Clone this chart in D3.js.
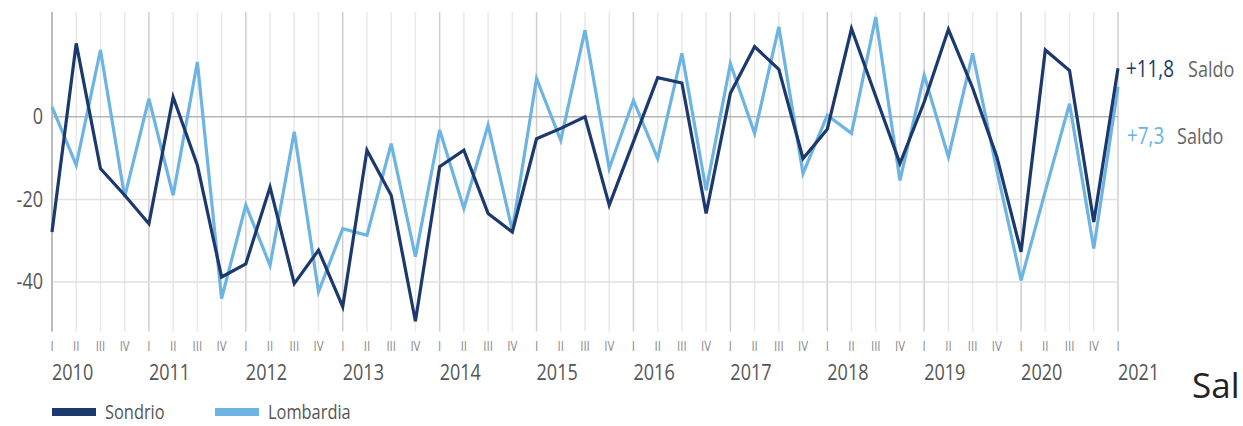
<!DOCTYPE html>
<html>
<head>
<meta charset="utf-8">
<script src="https://cdn.jsdelivr.net/npm/d3@7"></script>
<style>
  body { margin: 0; background: #fff; }
  text { font-family: "Open Sans", sans-serif; }
</style>
</head>
<body>
<div id="graph"></div>
<script>
// quarterly data, 2010 Q1 .. 2021 Q1
var quarterNames = ["I", "II", "III", "IV"];
var yearLabels = ["2010", "2011", "2012", "2013", "2014", "2015", "2016", "2017", "2018", "2019", "2020", "2021"];
var yTicks = [0, -20, -40];

var sondrio = [-27.9, 17.8, -12.5, -19, -25.9, 4.8, -11.7, -38.8, -35.6, -17, -40.4, -32.3,
  -46, -8.1, -19, -49.5, -12.1, -8.1, -23.4, -27.9, -5.3, -2.8, 0, -21.4,
  -6, 9.5, 8.2, -23.4, 5.7, 17, 11.5, -10.1, -3, 21.4, 5, -11.3,
  3.6, 21.2, 7, -9.7, -32.7, 16.2, 11.2, -25.5, 11.8];
var lombardia = [2.4, -11.7, 16.2, -19.4, 4.4, -19, 13.3, -44, -21.4, -36, -3.6, -42.4,
  -27.1, -28.7, -6.5, -33.9, -3.2, -22.2, -2, -27.5, 9.3, -5.7, 21, -12.5,
  4, -10.1, 15.4, -17.8, 12.9, -4, 21.8, -13.7, 0.4, -4, 24.2, -15.4,
  10.1, -9.7, 15.4, -13, -39.6, -18, 3.2, -31.9, 7.3];

var darkBlue = "#1b396d", lightBlue = "#6db4e3";
var squeeze = 0.82; // narrow the type a bit, like a condensed face

var W = 1243, H = 426;
var svg = d3.select("#graph").append("svg")
  .attr("width", W).attr("height", H);

var n = sondrio.length;
var x = d3.scaleLinear().domain([0, n - 1]).range([52, 1118]);
var y = d3.scaleLinear().domain([-52, 25.4]).range([331.5, 12]);

// helper: condensed text placed at (px, py)
function label(px, py, str, size, fill, anchor) {
  return svg.append("g")
    .attr("transform", "translate(" + px + "," + py + ") scale(" + squeeze + ",1)")
    .append("text")
      .attr("font-size", size)
      .attr("fill", fill)
      .attr("text-anchor", anchor || "start")
      .text(str);
}

// vertical gridlines, one per quarter, darker at year start
svg.append("g").selectAll("line")
  .data(d3.range(n))
  .join("line")
    .attr("x1", function(i) { return x(i); })
    .attr("x2", function(i) { return x(i); })
    .attr("y1", y.range()[1])
    .attr("y2", y.range()[0])
    .attr("stroke", function(i) { return i % 4 == 0 ? "#cfcfcf" : "#e9e9e9"; })
    .attr("stroke-width", 1.5);

// horizontal gridlines
svg.append("g").selectAll("line")
  .data(yTicks)
  .join("line")
    .attr("x1", x(0)).attr("x2", x(n - 1))
    .attr("y1", function(d) { return y(d); })
    .attr("y2", function(d) { return y(d); })
    .attr("stroke", function(d) { return d == 0 ? "#b5b5b5" : "#e0e0e0"; })
    .attr("stroke-width", 1.5);

// left axis line
svg.append("line")
  .attr("x1", x(0)).attr("x2", x(0))
  .attr("y1", y.range()[1]).attr("y2", y.range()[0])
  .attr("stroke", "#b0b0b0").attr("stroke-width", 1.5);

// y tick labels
yTicks.forEach(function(d) {
  label(43, y(d) + 7.5, d, 22, "#555", "end");
});

// quarter labels
d3.range(n).forEach(function(i) {
  label(x(i), 351, quarterNames[i % 4], 14, "#8a8a8a", "middle");
});

// year labels
yearLabels.forEach(function(yr, k) {
  label(x(k * 4), 380, yr, 22, "#555", "start");
});

// the two lines
var line = d3.line()
  .x(function(d, i) { return x(i); })
  .y(function(d) { return y(d); });

svg.append("path")
  .datum(lombardia)
  .attr("fill", "none")
  .attr("stroke", lightBlue)
  .attr("stroke-width", 3.2)
  .attr("d", line);

svg.append("path")
  .datum(sondrio)
  .attr("fill", "none")
  .attr("stroke", darkBlue)
  .attr("stroke-width", 3.2)
  .attr("d", line);

// end labels
var lastS = sondrio[n - 1], lastL = lombardia[n - 1];
function fmt(v) { return "+" + String(v).replace(".", ","); }
label(1126, 77, fmt(lastS), 23, darkBlue, "start");
label(1188, 77, "Saldo", 22, "#666", "start");
label(1127, 144, fmt(lastL), 23, lightBlue, "start");
label(1177, 144, "Saldo", 22, "#666", "start");

// legend
var legend = [{name: "Sondrio", color: darkBlue, x: 52}, {name: "Lombardia", color: lightBlue, x: 215}];
legend.forEach(function(d) {
  svg.append("rect")
    .attr("x", d.x).attr("y", 408)
    .attr("width", 44).attr("height", 8)
    .attr("fill", d.color);
  label(d.x + 53, 419, d.name, 20, "#555", "start");
});

// heading fragment at the bottom right (only "Sal" is visible)
svg.append("text")
  .attr("x", 1192).attr("y", 398)
  .attr("font-size", 35)
  .attr("fill", "#222")
  .text("Sal");
</script>
</body>
</html>
